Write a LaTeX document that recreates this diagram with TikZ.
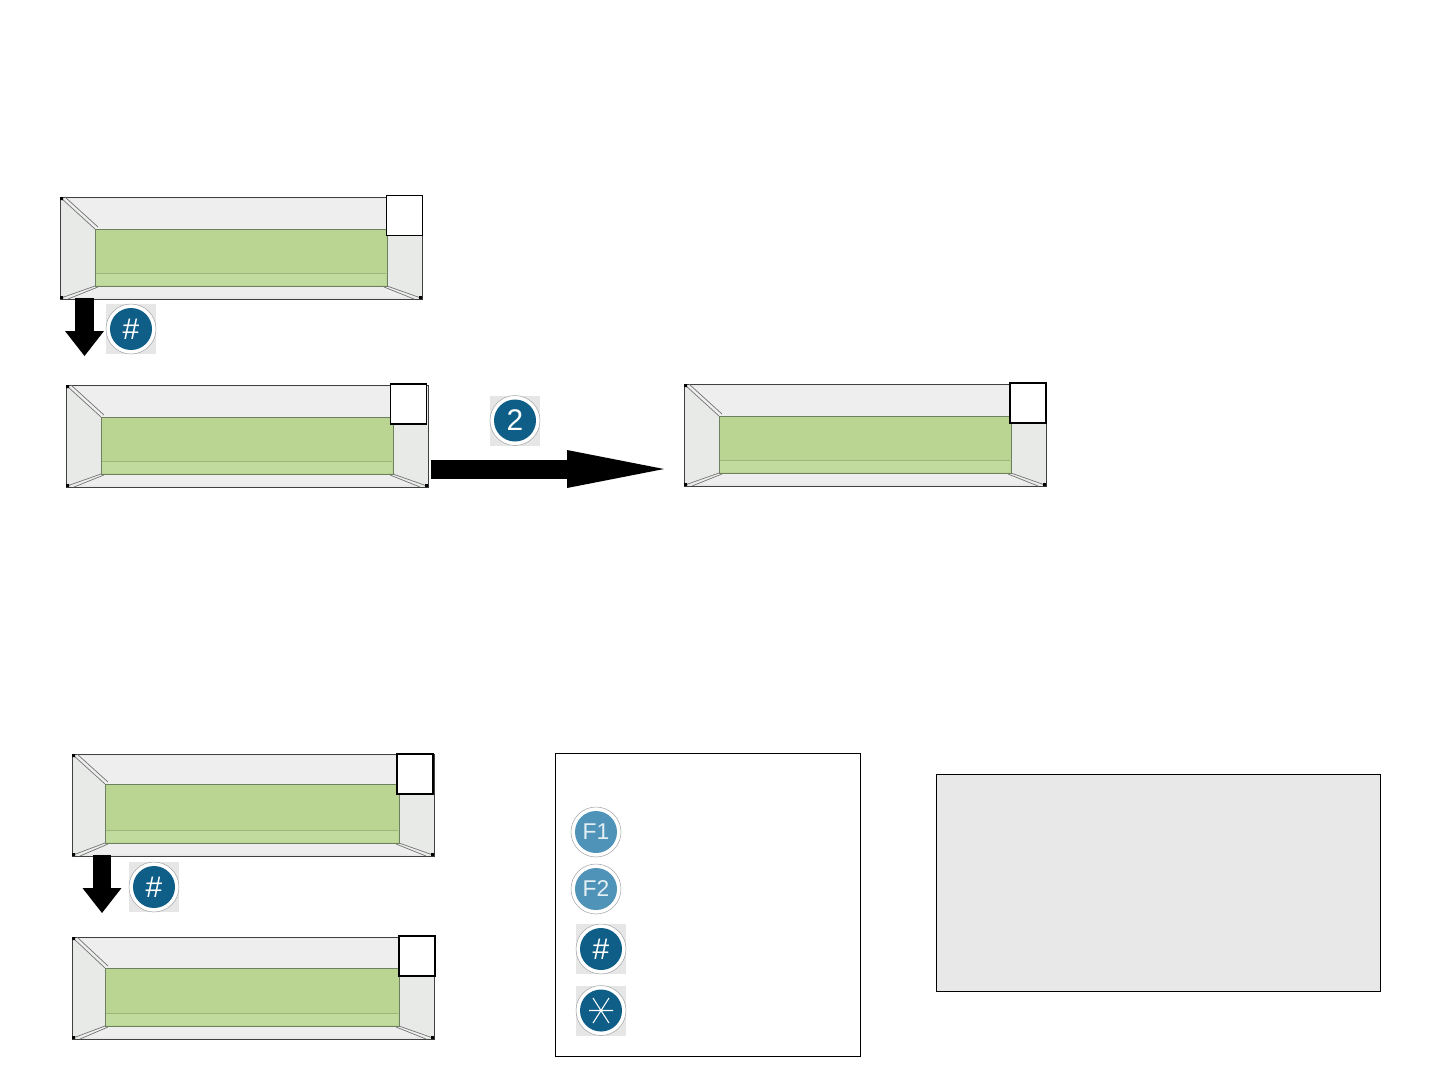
\documentclass[tikz,border=0pt]{standalone}
\usepackage{fontspec}
\setmainfont{Liberation Sans}
\usetikzlibrary{arrows.meta}
\definecolor{bevelgray}{HTML}{E8EAE8}
\definecolor{bevellight}{HTML}{EDEEED}
\definecolor{lcdgreen}{HTML}{B9D591}
\definecolor{lcdedge}{HTML}{6F7F62}
\definecolor{keydark}{HTML}{0E5E88}
\definecolor{keylight}{HTML}{4F94B8}
\definecolor{keyback}{HTML}{E6E6E6}
\definecolor{notegray}{HTML}{E8E8E8}
\tikzset{
    panelframe/.style={draw=black!75, line width=0.5pt, fill=bevelgray, minimum width=7.24cm, minimum height=2.04cm, inner sep=0pt, anchor=north west},
    lcdscreen/.style={draw=lcdedge, line width=0.4pt, fill=lcdgreen, inner sep=0pt, anchor=north west},
    cornerbox/.style={draw=black, line width=0.7pt, fill=white, minimum width=0.72cm, minimum height=0.8cm, inner sep=0pt},
    keyback/.style={fill=keyback, minimum size=1cm, inner sep=0pt},
    darkkey/.style={circle, draw=keydark, line width=0.8mm, fill=keydark, minimum size=0.76cm, inner sep=0pt, text=white, font=\fontsize{17}{17}\selectfont},
    lightkey/.style={circle, draw=keylight, line width=0.8mm, fill=keylight, minimum size=0.76cm, inner sep=0pt, text=white!85!keylight, font=\fontsize{13}{13}\selectfont},
    keyring/.style={circle, draw=black!35, fill=white, line width=0.3pt, minimum size=1cm, inner sep=0pt},
    blockdown/.style={line width=0.38cm, -{Triangle[length=0.5cm,width=0.78cm,line width=0pt]}},
    blockright/.style={line width=0.38cm, -{Triangle[length=1.94cm,width=0.76cm,line width=0pt]}},
    boxed/.style={draw=black, line width=0.7pt, anchor=north west, inner sep=0pt}
}
% frame with bevels and the green screen; #4 and #5 are the left and top of the screen
\newcommand{\lcdpanel}[5]{%
    \node[panelframe] (panel#1) at (#2,#3) {};
    \begin{scope}[shift={(#2,#3)}]
        \fill[bevellight] (#4,#5) -- (2,2) -- (360,2) -- (327,#5) -- cycle;
        \fill[bevellight] (#4,89) -- (2,100) -- (360,100) -- (327,89) -- cycle;
        \draw[black!55, line width=0.4pt] (1,1) -- (#4,#5) (5,0) -- (#4+3,#5-2);
        \draw[black!55, line width=0.4pt] (1,101) -- (#4,89) (8,102) -- (#4+3,90);
        \draw[black!55, line width=0.4pt] (361,101) -- (327,89) (354,102) -- (324,90);
        \fill[black] (0,0) rectangle (3,3) (0,99) rectangle (3,102) (359,99) rectangle (362,102);
        \node[lcdscreen, minimum width={(327-#4)*0.02cm}, minimum height={(89-#5)*0.02cm}] (screen#1) at (#4,#5) {};
        \draw[lcdgreen!85!black, line width=0.3pt] (#4+1,76) -- (326,76);
        \fill[white!12!lcdgreen] (#4+1,77) rectangle (326,88);
    \end{scope}}
\begin{document}
\begin{tikzpicture}[x=0.02cm, y=-0.02cm]
    \useasboundingbox (0,0) rectangle (1440,1080);

    % Upper row
    \lcdpanel{A}{60}{197}{35}{32}
    \node[cornerbox] (cornerA) at (404.5,215.5) {};
    \lcdpanel{B}{66}{385}{35}{32}
    \node[cornerbox] (cornerB) at (408.5,404) {};
    \lcdpanel{C}{684}{384}{35}{32}
    \node[cornerbox] (cornerC) at (1028,403) {};

    \coordinate (downAs) at (84.5,298);
    \coordinate (downAe) at (84.5,356);
    \draw[blockdown] (downAs) -- (downAe);
    \node[keyback] (hashAbg) at (131,329) {};
    \node[keyring] (hashAring) at (131,329) {};
    \node[darkkey] (hashA) at (131,329) {\#};

    \coordinate (rightBs) at (431,469);
    \coordinate (rightBe) at (664,469);
    \draw[blockright] (rightBs) -- (rightBe);
    \node[keyback] (twoBbg) at (515,420.5) {};
    \node[keyring] (twoBring) at (515,420.5) {};
    \node[darkkey] (twoB) at (515,420.5) {2};

    % Lower left
    \lcdpanel{D}{72}{754}{33}{30}
    \node[cornerbox] (cornerD) at (415,774) {};
    \lcdpanel{E}{72}{937}{33}{31}
    \node[cornerbox] (cornerE) at (417,956) {};

    \coordinate (downDs) at (102,855);
    \coordinate (downDe) at (102,913);
    \draw[blockdown] (downDs) -- (downDe);
    \node[keyback] (hashDbg) at (154,887) {};
    \node[keyring] (hashDring) at (154,887) {};
    \node[darkkey] (hashD) at (154,887) {\#};

    % Key legend
    \node[boxed, minimum width=6.1cm, minimum height=6.06cm] (legend) at (555,753) {};
    \node[keyring] (fOnering) at (596,832) {};
    \node[lightkey] (fOne) at (596,832) {F1};
    \node[keyring] (fTworing) at (596,889) {};
    \node[lightkey] (fTwo) at (596,889) {F2};
    \node[keyback] (hashLbg) at (601,949) {};
    \node[keyring] (hashLring) at (601,949) {};
    \node[darkkey] (hashL) at (601,949) {\#};
    \node[keyback] (starLbg) at (601,1010.5) {};
    \node[keyring] (starLring) at (601,1010.5) {};
    \node[darkkey] (starL) at (601,1010.5) {};
    \draw[white, line width=0.6pt] (589,1010.5) -- (613,1010.5) (593,998) -- (609,1023) (609,998) -- (593,1023);

    % Note box
    \node[boxed, fill=notegray, minimum width=8.88cm, minimum height=4.34cm] (note) at (936,774) {};
\end{tikzpicture}
\end{document}
